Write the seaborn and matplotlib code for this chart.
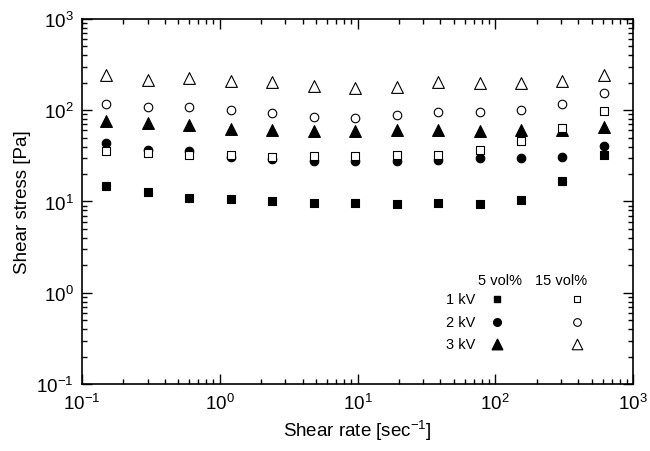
import numpy as np
import pandas as pd
import matplotlib
matplotlib.use("Agg")
import matplotlib.pyplot as plt
import seaborn as sns

# shear rate [1/s]
shear_rate = [0.15, 0.3, 0.6, 1.2, 2.4, 4.8, 9.6, 19.2, 38.4, 76.8, 153.6, 307.2, 614.4]

# shear stress [Pa], 5 vol%
s5_1kv = [14.9, 12.7, 11.0, 10.6, 10.1, 9.6, 9.6, 9.3, 9.6, 9.4, 10.5, 16.8, 32.3]
s5_2kv = [43.5, 37, 36, 30.5, 29, 28, 28, 28, 28.5, 29.7, 29.7, 30.5, 41]
s5_3kv = [77, 72, 68, 62, 61, 59, 59, 61, 61, 59.5, 60.7, 60, 65]

# shear stress [Pa], 15 vol%
s15_1kv = [35.5, 34, 32.3, 32.6, 31, 31.8, 31.8, 32.3, 32, 37, 46.4, 64, 99]
s15_2kv = [117, 108, 109, 100, 93, 84, 82, 89, 96, 96, 101, 118, 155]
s15_3kv = [243, 216, 224, 211, 202, 186, 174, 178, 202, 197, 197, 208, 243]

voltages = ["1 kV", "2 kV", "3 kV"]
markers = ["s", "o", "^"]
sizes = [28, 38, 72]

sns.set_style("ticks")
plt.rcParams["font.family"] = ["Liberation Sans", "DejaVu Sans"]
plt.rcParams["mathtext.fontset"] = "custom"
plt.rcParams["mathtext.rm"] = "Liberation Sans"
plt.rcParams["mathtext.it"] = "Liberation Sans:italic"
plt.rcParams["axes.edgecolor"] = "black"
plt.rcParams["xtick.color"] = "black"
plt.rcParams["ytick.color"] = "black"
plt.rcParams["text.color"] = "black"
plt.rcParams["axes.labelcolor"] = "black"

fig = plt.figure(figsize=(6.5, 4.52), dpi=100)
ax = fig.add_axes([0.126, 0.148, 0.848, 0.808])

series5 = [s5_1kv, s5_2kv, s5_3kv]
series15 = [s15_1kv, s15_2kv, s15_3kv]

# filled = 5 vol%, open = 15 vol%
for vals, m, s in zip(series5, markers, sizes):
    df = pd.DataFrame({"rate": shear_rate, "stress": vals})
    sns.scatterplot(data=df, x="rate", y="stress", marker=m, s=s,
                    color="black", edgecolor="black", linewidth=0.8, ax=ax, zorder=3)
for vals, m, s in zip(series15, markers, sizes):
    df = pd.DataFrame({"rate": shear_rate, "stress": vals})
    sns.scatterplot(data=df, x="rate", y="stress", marker=m, s=s,
                    facecolor="white", edgecolor="black", linewidth=0.8, ax=ax, zorder=3)

ax.set_xscale("log")
ax.set_yscale("log")
ax.set_xlim(0.1, 1000)
ax.set_ylim(0.1, 1000)
ax.set_xlabel("Shear rate [sec$^{-1}$]", fontsize=13.5)
ax.set_ylabel("Shear stress [Pa]", fontsize=13.5)

ax.tick_params(which="both", direction="in", top=True, right=True, width=1)
ax.tick_params(which="major", length=7, labelsize=13.5, pad=6)
ax.tick_params(which="minor", length=3.5)
for sp in ax.spines.values():
    sp.set_linewidth(1.2)

# hand-made legend
ax.text(0.758, 0.285, "5 vol%", transform=ax.transAxes, ha="center", va="center", fontsize=10.5)
ax.text(0.87, 0.285, "15 vol%", transform=ax.transAxes, ha="center", va="center", fontsize=10.5)
rows_y = [0.233, 0.170, 0.110]
for lab, m, s, yy in zip(voltages, markers, sizes, rows_y):
    ax.text(0.713, yy, lab, transform=ax.transAxes, ha="right", va="center", fontsize=10.5)
    ax.scatter([0.753], [yy], marker=m, s=s * 0.8, color="black", transform=ax.transAxes)
    ax.scatter([0.898], [yy], marker=m, s=s * 0.8, facecolor="white", edgecolor="black",
               linewidth=0.8, transform=ax.transAxes)

fig.savefig("out.png", dpi=100)
